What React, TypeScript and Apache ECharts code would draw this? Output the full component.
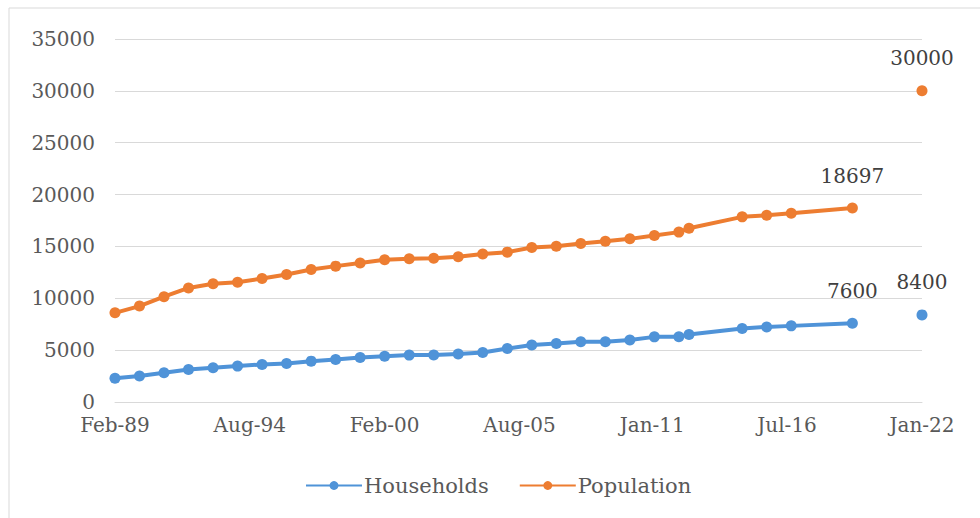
import React, { useEffect, useRef } from "react";
import * as echarts from "echarts";

const dates = [
  "1989-02-01", "1990-02-01", "1991-02-01", "1992-02-01", "1993-02-01", "1994-02-01",
  "1995-02-01", "1996-02-01", "1997-02-01", "1998-02-01", "1999-02-01", "2000-02-01",
  "2001-02-01", "2002-02-01", "2003-02-01", "2004-02-01", "2005-02-01", "2006-02-01",
  "2007-02-01", "2008-02-01", "2009-02-01", "2010-02-01", "2011-02-01", "2012-02-01",
  "2012-07-01", "2014-09-01", "2015-09-01", "2016-09-01", "2019-03-01", "2020-08-01",
  "2022-01-01",
];

const households: (number | null)[] = [
  2300, 2500, 2820, 3140, 3300, 3460,
  3620, 3720, 3940, 4100, 4290, 4420,
  4520, 4540, 4620, 4780, 5150, 5500,
  5640, 5800, 5800, 5980, 6280, 6300,
  6500, 7080, 7240, 7340, 7600, null,
  8400,
];

const population: (number | null)[] = [
  8600, 9250, 10150, 11000, 11400, 11550,
  11900, 12300, 12780, 13100, 13400, 13720,
  13810, 13850, 14000, 14260, 14450, 14900,
  15020, 15290, 15510, 15730, 16060, 16380,
  16750, 17850, 18000, 18200, 18697, null,
  30000,
];

const labeledDates = ["2019-03-01", "2022-01-01"];

const tickDates = [
  "1989-02-01", "1994-08-01", "2000-02-01", "2005-08-01",
  "2011-01-01", "2016-07-01", "2022-01-01",
];
const tickLabels = ["Feb-89", "Aug-94", "Feb-00", "Aug-05", "Jan-11", "Jul-16", "Jan-22"];

const FONT = "DejaVu Serif";
const TEXT = "#595959";
const FS = 20;

function toTs(d: string) {
  const [y, m, day] = d.split("-").map(Number);
  return Date.UTC(y, m - 1, day);
}

function buildData(values: (number | null)[]) {
  return dates.map((d, i) => {
    const item: any = { value: [toTs(d), values[i] == null ? "-" : values[i]] };
    if (labeledDates.includes(d) && values[i] != null) {
      item.label = { show: true };
    }
    return item;
  });
}

export default function App() {
  const ref = useRef<HTMLDivElement>(null);
  useEffect(() => {
    if (!ref.current) return;
    const chart = echarts.init(ref.current, null, { renderer: "svg" });
    const tickTs = tickDates.map(toTs);
    const makeSeries = (name: string, values: (number | null)[], color: string) => ({
      name,
      type: "line",
      data: buildData(values),
      connectNulls: false,
      symbol: "circle",
      symbolSize: 11,
      showSymbol: true,
      lineStyle: { color, width: 4 },
      itemStyle: { color },
      label: {
        show: false,
        position: "top",
        distance: 17,
        fontFamily: FONT,
        fontSize: FS,
        color: "#404040",
        formatter: (p: any) => String(p.value[1]),
      },
    });
    chart.setOption({
      animation: false,
      backgroundColor: "#ffffff",
      textStyle: { fontFamily: FONT },
      graphic: [
        {
          type: "rect",
          shape: { x: 9, y: 8, width: 1000, height: 600 },
          style: { fill: "none", stroke: "#d9d9d9", lineWidth: 1 },
          silent: true,
        },
      ],
      grid: { left: 115, right: 58, top: 39, bottom: 116, containLabel: false },
      legend: {
        bottom: 22,
        left: 305,
        padding: 0,
        itemWidth: 56,
        itemHeight: 11,
        itemGap: 30,
        textStyle: { fontFamily: FONT, fontSize: 21, color: TEXT, padding: [0, 0, 0, -3] },
        data: ["Households", "Population"],
      },
      xAxis: {
        type: "value",
        min: toTs(dates[0]),
        max: toTs(dates[dates.length - 1]),
        axisLine: { show: true, lineStyle: { color: "#d9d9d9", width: 1 } },
        axisTick: { show: false },
        splitLine: { show: false },
        axisLabel: {
          customValues: tickTs,
          fontFamily: FONT,
          fontSize: FS,
          color: TEXT,
          margin: 13,
          formatter: (v: number) => {
            const idx = tickTs.indexOf(v);
            return idx >= 0 ? tickLabels[idx] : "";
          },
        },
      },
      yAxis: {
        type: "value",
        min: 0,
        max: 35000,
        interval: 5000,
        axisLine: { show: false },
        axisTick: { show: false },
        splitLine: { lineStyle: { color: "#d9d9d9", width: 1 } },
        axisLabel: {
          fontFamily: FONT,
          fontSize: FS,
          color: TEXT,
          margin: 20,
          formatter: (v: number) => String(v),
        },
      },
      series: [
        makeSeries("Households", households, "#4f93d8"),
        makeSeries("Population", population, "#ed7d31"),
      ],
    });
    return () => chart.dispose();
  }, []);
  return (
    <div
      ref={ref}
      style={{ position: "fixed", left: 0, top: 0, width: 980, height: 518, background: "#fff" }}
    />
  );
}
